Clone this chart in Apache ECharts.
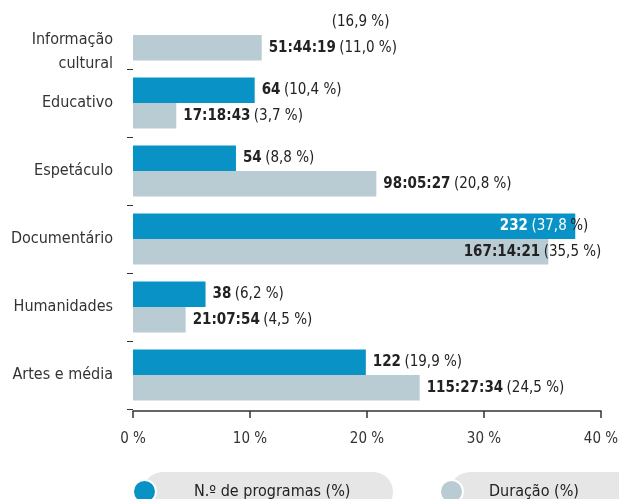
<!DOCTYPE html>
<html lang="pt">
  <head>
    <meta charset="UTF-8" />
    <title>Programas por género</title>
    <script src="https://cdn.jsdelivr.net/npm/echarts@6/dist/echarts.min.js"></script>
    <style>
      html, body { margin: 0; padding: 0; background: #fff; }
      #chart { width: 619px; height: 499px; }
    </style>
  </head>
  <body>
    <div id="chart"></div>
    <script>
      // categories, top to bottom
      const categories = ["Informação\ncultural", "Educativo", "Espetáculo", "Documentário", "Humanidades", "Artes e média"];
      // N.º de programas: share (%) and count
      const programasPct = [16.9, 10.4, 8.8, 37.8, 6.2, 19.9];
      const programasCount = [null, 64, 54, 232, 38, 122];
      // Duração: share (%) and total time
      const duracaoPct = [11.0, 3.7, 20.8, 35.5, 4.5, 24.5];
      const duracaoTime = ["51:44:19", "17:18:43", "98:05:27", "167:14:21", "21:07:54", "115:27:34"];
      const xTicks = [0, 10, 20, 30, 40];

      const FONT = "'DejaVu Sans Condensed', sans-serif";
      const BLUE = "#0892c6";
      const GREY = "#b9cbd3";
      const INK = "#222";
      const VS = 15; // value label size

      function pct(v) {
        return v.toFixed(1).replace(".", ",");
      }

      const rich = {
        b: { fontFamily: FONT, fontSize: VS, fontWeight: "bold", color: INK },
        n: { fontFamily: FONT, fontSize: VS, color: INK },
        bw: { fontFamily: FONT, fontSize: VS, fontWeight: "bold", color: "#fff" },
        w: { fontFamily: FONT, fontSize: VS, color: "#fff" },
        d: { fontFamily: FONT, fontSize: VS, color: INK }
      };

      const blueData = programasPct.map(function (v, i) {
        const item = { value: v };
        if (programasCount[i] == null) {
          // bar not visible in the original, only its share is printed
          item.itemStyle = { color: "#fff" };
          item.label = { distance: 1 };
        }
        if (i === 3) {
          item.label = {
            position: "insideRight",
            offset: [20, 0],
            formatter: "{bw|" + programasCount[i] + "} {w|(" + pct(v) + "} {d|%)}"
          };
        }
        return item;
      });

      const greyData = duracaoPct.map(function (v, i) {
        const item = { value: v };
        if (i === 3) {
          item.label = { position: "insideRight", offset: [60, 0] };
        }
        return item;
      });

      const chart = echarts.init(document.getElementById("chart"), null, { renderer: "canvas" });

      chart.setOption({
        animation: false,
        textStyle: { fontFamily: FONT },
        grid: { left: 133, right: 18, top: 1, bottom: 90, containLabel: false, outerBoundsMode: "none" },
        xAxis: {
          type: "value",
          min: xTicks[0],
          max: xTicks[xTicks.length - 1],
          interval: 10,
          offset: 2,
          axisLine: { show: true, lineStyle: { color: "#333", width: 1.5 } },
          axisTick: { show: true, length: 7, lineStyle: { color: "#333", width: 1.5 } },
          splitLine: { show: false },
          axisLabel: {
            margin: 21,
            fontFamily: FONT,
            fontSize: 15,
            color: "#333",
            formatter: "{value} %"
          }
        },
        yAxis: {
          type: "category",
          inverse: true,
          data: categories,
          axisLine: { show: false },
          axisTick: {
            show: true,
            length: 6,
            lineStyle: { color: "#333" },
            interval: function (index) { return index !== 0; }
          },
          axisLabel: {
            margin: 20,
            fontFamily: FONT,
            fontSize: 16,
            color: "#333",
            align: "right",
            formatter: function (value) {
              if (value.indexOf("\n") < 0) return "{c|" + value + "}";
              const parts = value.split("\n");
              return "{s| }\n{c|" + parts[0] + "}\n{c|" + parts[1] + "}";
            },
            rich: {
              c: { fontFamily: FONT, fontSize: 16, color: "#333", lineHeight: 24 },
              s: { fontSize: 10, lineHeight: 34 }
            }
          }
        },
        legend: [
          {
            data: ["N.º de programas (%)"],
            left: 132,
            top: 479,
            padding: 0,
            icon: "circle",
            itemWidth: 23,
            itemHeight: 23,
            itemStyle: { borderColor: "#fff", borderWidth: 2 },
            textStyle: { fontFamily: FONT, fontSize: 16, color: INK, padding: [0, 0, 0, 33] },
            selectedMode: false
          },
          {
            data: ["Duração (%)"],
            left: 439,
            top: 479,
            padding: 0,
            icon: "circle",
            itemWidth: 23,
            itemHeight: 23,
            itemStyle: { borderColor: "#fff", borderWidth: 2 },
            textStyle: { fontFamily: FONT, fontSize: 16, color: INK, padding: [0, 0, 0, 21] },
            selectedMode: false
          }
        ],
        graphic: [
          { type: "rect", z: -10, shape: { x: 143, y: 472, width: 250, height: 40, r: 20 }, style: { fill: "#e6e6e6" } },
          { type: "rect", z: -10, shape: { x: 450, y: 472, width: 200, height: 40, r: 20 }, style: { fill: "#e6e6e6" } }
        ],
        series: [
          {
            name: "N.º de programas (%)",
            type: "bar",
            data: blueData,
            itemStyle: { color: BLUE },
            barGap: "0%",
            barCategoryGap: "25%",
            label: {
              show: true,
              position: "right",
              distance: 7,
              color: "#fff",
              rich: rich,
              formatter: function (p) {
                const c = programasCount[p.dataIndex];
                const t = "{n|(" + pct(p.value) + " %)}";
                return c == null ? t : "{b|" + c + "} " + t;
              }
            }
          },
          {
            name: "Duração (%)",
            type: "bar",
            data: greyData,
            itemStyle: { color: GREY },
            label: {
              show: true,
              position: "right",
              distance: 7,
              rich: rich,
              formatter: function (p) {
                return "{b|" + duracaoTime[p.dataIndex] + "} {n|(" + pct(p.value) + " %)}";
              }
            }
          }
        ]
      });
    </script>
  </body>
</html>
